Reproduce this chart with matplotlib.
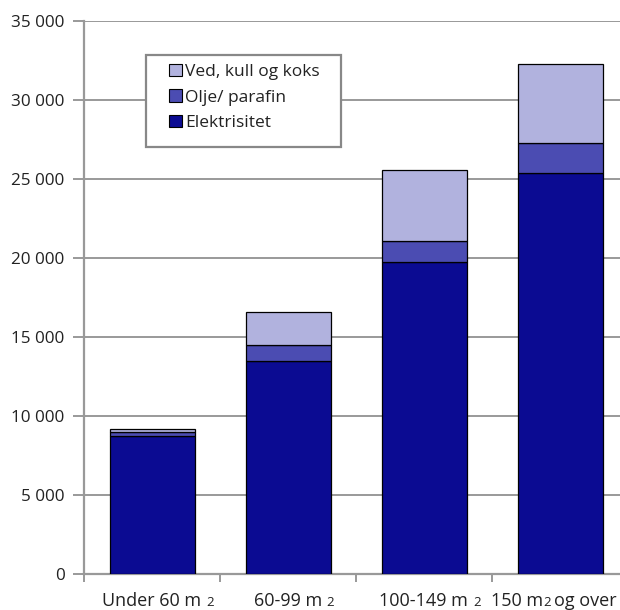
import matplotlib
matplotlib.use("Agg")
import matplotlib.pyplot as plt
import matplotlib.transforms as mtransforms
from matplotlib.patches import Patch, Rectangle
from matplotlib.ticker import FuncFormatter, MultipleLocator

plt.rcParams['font.family'] = ['Open Sans', 'DejaVu Sans']

# Dwelling size groups; each label is split into (main text, small "2", trailing text)
categories = ["Under 60 m", "60-99 m", "100-149 m", "150 m"]
label_tails = ["", "", "", "og over"]

elektrisitet = [8750, 13500, 19750, 25400]
olje_parafin = [250, 1000, 1300, 1850]
ved_kull_koks = [200, 2100, 4550, 5050]

series_names = ["Elektrisitet", "Olje/ parafin", "Ved, kull og koks"]
colors = ["#0b0b92", "#4b4cb2", "#b1b2de"]
grey = "#999999"
text_col = "#222222"

W, H = 620, 610
fig = plt.figure(figsize=(W / 100, H / 100), dpi=100)
ax = fig.add_axes([84 / W, 1 - 574 / H, 544 / W, 553 / H])

x = list(range(len(categories)))
bottom = [0] * len(categories)
for vals, col in zip([elektrisitet, olje_parafin, ved_kull_koks], colors):
    ax.bar(x, vals, width=0.625, bottom=bottom, color=col,
           edgecolor="black", linewidth=0.9, zorder=3)
    bottom = [b + v for b, v in zip(bottom, vals)]

ax.set_xlim(-0.5, len(categories) - 0.5)
ax.set_ylim(0, 35000)
ax.yaxis.set_major_locator(MultipleLocator(5000))
ax.yaxis.set_major_formatter(FuncFormatter(lambda v, p: f"{int(v):,}".replace(",", " ")))
ax.grid(axis="y", color=grey, linewidth=1.4, zorder=0)

for s in ["top", "right"]:
    ax.spines[s].set_visible(False)
for s in ["left", "bottom"]:
    ax.spines[s].set_color(grey)
    ax.spines[s].set_linewidth(1.6)

ax.tick_params(axis="y", length=8, width=1.4, color=grey, labelsize=12.3,
               labelcolor=text_col, pad=6)
ax.set_xticks([i + 0.5 for i in range(-1, len(categories))])
ax.set_xticklabels([])
ax.tick_params(axis="x", length=6, width=1.4, color=grey)

# Category labels with a smaller "2" for square metres
fig.canvas.draw()
renderer = fig.canvas.get_renderer()
base = mtransforms.blended_transform_factory(ax.transData, ax.transAxes)
y_lab = -31.5 / 553
big, small = 13, 9.5
label_shift = [6, 6, 6, 0]
for i, (main, tail) in enumerate(zip(categories, label_tails)):
    if tail:
        parts = [(main, big), ("2", small), (" ", small), (tail, big)]
    else:
        parts = [(main + " ", big), ("2", small)]
    widths = []
    for txt, size in parts:
        t = fig.text(0, 0, txt, fontsize=size)
        widths.append(t.get_window_extent(renderer).width)
        t.remove()
    total = sum(widths)
    centre_px = ax.transData.transform((i, 0))[0] + label_shift[i]
    start = -total / 2 + label_shift[i]
    overflow = centre_px + total / 2 - (W - 3)
    if overflow > 0:
        start -= overflow
    for (txt, size), w in zip(parts, widths):
        if txt.strip():
            tr = mtransforms.offset_copy(base, fig=fig, x=start, y=0, units="dots")
            ax.text(i, y_lab, txt, fontsize=size, color=text_col, ha="left",
                    va="baseline", transform=tr, clip_on=False)
        start += w

# Legend box
ax.add_patch(Rectangle((62 / 544, (574 - 147) / 553), 195 / 544, 92 / 553,
                       transform=ax.transAxes, facecolor="white",
                       edgecolor="#888888", linewidth=1.6, zorder=5,
                       clip_on=False))
handles = [Patch(facecolor=c, edgecolor="black", linewidth=0.8, label=n)
           for n, c in zip(series_names, colors)]
leg = ax.legend(handles=handles[::-1], loc="upper left",
                bbox_to_anchor=(85 / 544, (574 - 64) / 553), fontsize=12.5,
                frameon=False, handlelength=0.75, handleheight=0.72,
                handletextpad=0.2, labelspacing=0.53, borderpad=0,
                borderaxespad=0)
for t in leg.get_texts():
    t.set_color(text_col)
leg.set_zorder(6)

fig.savefig("out.png", dpi=100)
